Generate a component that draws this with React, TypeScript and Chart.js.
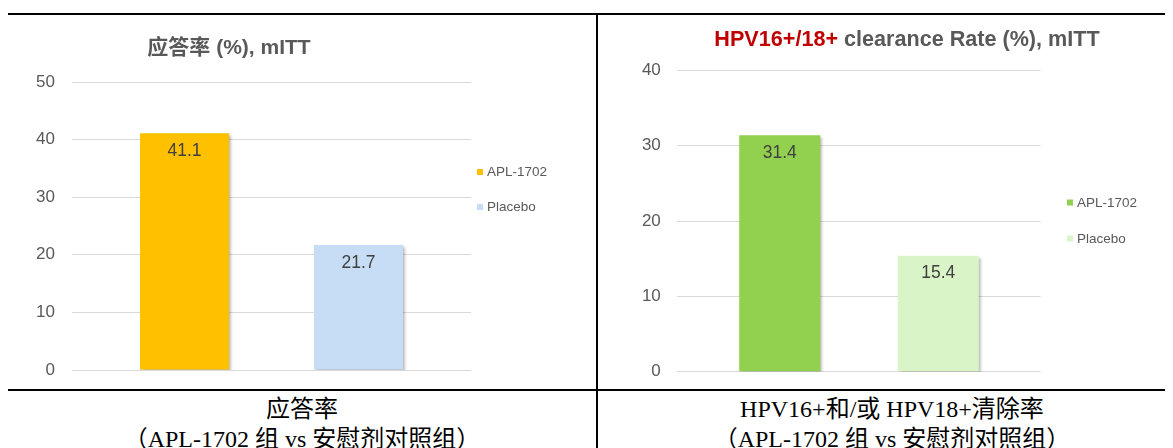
import React, { useEffect, useRef } from 'react';
import { Chart, registerables } from 'chart.js';

Chart.register(...registerables);

// ---- data ----
const seriesNames = ['APL-1702', 'Placebo'];
const responseCategories = ['应答率'];
const responseApl = [41.1];
const responsePlacebo = [21.7];
const responseTickValues = [0, 10, 20, 30, 40, 50];

const clearanceCategories = ['HPV16+/18+'];
const clearanceApl = [31.4];
const clearancePlacebo = [15.4];
const clearanceTickValues = [0, 10, 20, 30, 40];

const responseTitle = [{ text: '应答率 (%), mITT', color: '#595959' }];
const clearanceTitle = [
  { text: 'HPV16+/18+', color: '#C00000' },
  { text: ' clearance Rate (%), mITT', color: '#595959' },
];

const responseCaption = ['应答率', '（APL-1702 组 vs 安慰剂对照组）'];
const clearanceCaption = ['HPV16+和/或 HPV18+清除率', '（APL-1702 组 vs 安慰剂对照组）'];

const SANS = '"Liberation Sans", Arial, "Noto Sans CJK SC", sans-serif';
const SERIF = '"Liberation Serif", "Times New Roman", "Noto Sans CJK SC", serif';

Chart.defaults.font.family = SANS;

type Part = { text: string; color: string };

type PanelProps = {
  width: number;
  height: number;
  categories: string[];
  apl: number[];
  placebo: number[];
  ticks: number[];
  colors: [string, string];
  title: Part[];
  titleSize: number;
  titleX: number;
  titleY: number;
  padding: { top: number; right: number; bottom: number };
  yWidth: number;
  tickPad: number;
  legendX: number;
  legendY: number;
  legendGap: number;
};

function BarPanel(p: PanelProps) {
  const ref = useRef<HTMLCanvasElement | null>(null);

  useEffect(() => {
    if (!ref.current) return;

    const decor = {
      id: 'decor',
      beforeDatasetsDraw(chart: any) {
        const ctx = chart.ctx;
        ctx.save();
        ctx.shadowColor = 'rgba(0,0,0,0.32)';
        ctx.shadowBlur = 3;
        ctx.shadowOffsetX = 2;
        ctx.shadowOffsetY = 2;
      },
      afterDatasetsDraw(chart: any) {
        const ctx = chart.ctx;
        ctx.restore();
        ctx.save();
        ctx.font = `17.5px ${SANS}`;
        ctx.fillStyle = '#404040';
        ctx.textAlign = 'center';
        ctx.textBaseline = 'middle';
        chart.data.datasets.forEach((ds: any, i: number) => {
          const meta = chart.getDatasetMeta(i);
          meta.data.forEach((bar: any, j: number) => {
            ctx.fillText(Number(ds.data[j]).toFixed(1), bar.x, bar.y + 17.7);
          });
        });
        ctx.restore();
      },
      afterDraw(chart: any) {
        const ctx = chart.ctx;
        ctx.save();
        // title
        ctx.font = `bold ${p.titleSize}px ${SANS}`;
        ctx.textBaseline = 'middle';
        ctx.textAlign = 'left';
        const total = p.title.reduce((s, t) => s + ctx.measureText(t.text).width, 0);
        let x = p.titleX - total / 2;
        p.title.forEach((t) => {
          ctx.fillStyle = t.color;
          ctx.fillText(t.text, x, p.titleY);
          x += ctx.measureText(t.text).width;
        });
        // legend
        ctx.font = `13.5px ${SANS}`;
        chart.data.datasets.forEach((ds: any, i: number) => {
          const y = p.legendY + i * p.legendGap;
          ctx.fillStyle = ds.backgroundColor;
          ctx.fillRect(p.legendX, y - 3, 6, 6);
          ctx.fillStyle = '#595959';
          ctx.fillText(ds.label, p.legendX + 10, y + 0.5);
        });
        ctx.restore();
      },
    };

    const chart = new Chart(ref.current, {
      type: 'bar',
      data: {
        labels: p.categories,
        datasets: [
          { label: seriesNames[0], data: p.apl, backgroundColor: p.colors[0] },
          { label: seriesNames[1], data: p.placebo, backgroundColor: p.colors[1] },
        ],
      },
      options: {
        responsive: false,
        animation: false,
        devicePixelRatio: 1,
        categoryPercentage: 0.872,
        barPercentage: 0.512,
        layout: { padding: { left: 0, top: p.padding.top, right: p.padding.right, bottom: p.padding.bottom } },
        plugins: { legend: { display: false }, title: { display: false }, tooltip: { enabled: false } },
        scales: {
          x: { display: false },
          y: {
            min: p.ticks[0],
            max: p.ticks[p.ticks.length - 1],
            afterBuildTicks: (scale: any) => {
              scale.ticks = p.ticks.map((v) => ({ value: v }));
            },
            afterFit: (scale: any) => {
              scale.width = p.yWidth;
              scale.paddingTop = 0;
              scale.paddingBottom = 0;
            },
            ticks: { padding: p.tickPad, color: '#595959', font: { size: 17 } },
            grid: { color: '#d9d9d9', lineWidth: 1, drawTicks: false },
            border: { display: false },
          },
        },
      } as any,
      plugins: [decor],
    });
    return () => chart.destroy();
  }, []);

  return <canvas ref={ref} width={p.width} height={p.height} style={{ width: p.width, height: p.height, display: 'block' }} />;
}

function Caption({ lines, left, width }: { lines: string[]; left: number; width: number }) {
  return (
    <div
      style={{
        position: 'absolute',
        left,
        top: 385.5,
        width,
        textAlign: 'center',
        fontFamily: SERIF,
        fontSize: 24,
        lineHeight: '30px',
        color: '#000',
        whiteSpace: 'nowrap',
      }}
    >
      {lines.map((l, i) => (
        <div key={i}>{l}</div>
      ))}
    </div>
  );
}

export default function App() {
  useEffect(() => {
    document.documentElement.style.overflow = 'hidden';
    document.body.style.overflow = 'hidden';
  }, []);

  return (
    <div style={{ position: 'relative', width: 1165, height: 440, overflow: 'hidden', background: '#fff' }}>
      <div style={{ position: 'absolute', left: 0, top: 5, width: 1165, height: 2, background: '#000' }} />
      <div style={{ position: 'absolute', left: 0, top: 381, width: 1165, height: 2, background: '#000' }} />
      <div style={{ position: 'absolute', left: 588, top: 5, width: 2, height: 435, background: '#000' }} />

      <div style={{ position: 'absolute', left: 0, top: 7 }}>
        <BarPanel
          width={588}
          height={374}
          categories={responseCategories}
          apl={responseApl}
          placebo={responsePlacebo}
          ticks={responseTickValues}
          colors={['#FFC000', '#C7DCF5']}
          title={responseTitle}
          titleSize={21}
          titleX={221}
          titleY={33}
          padding={{ top: 67, right: 125, bottom: 19 }}
          yWidth={64}
          tickPad={17}
          legendX={469}
          legendY={157}
          legendGap={35}
        />
      </div>

      <div style={{ position: 'absolute', left: 590, top: 7 }}>
        <BarPanel
          width={575}
          height={374}
          categories={clearanceCategories}
          apl={clearanceApl}
          placebo={clearancePlacebo}
          ticks={clearanceTickValues}
          colors={['#92D050', '#D9F5C8']}
          title={clearanceTitle}
          titleSize={21.6}
          titleX={309}
          titleY={25}
          padding={{ top: 55.5, right: 132.3, bottom: 17.3 }}
          yWidth={79.3}
          tickPad={16.5}
          legendX={469}
          legendY={187.5}
          legendGap={36}
        />
      </div>

      <Caption lines={responseCaption} left={0} width={588} />
      <Caption lines={clearanceCaption} left={590} width={588} />
    </div>
  );
}
